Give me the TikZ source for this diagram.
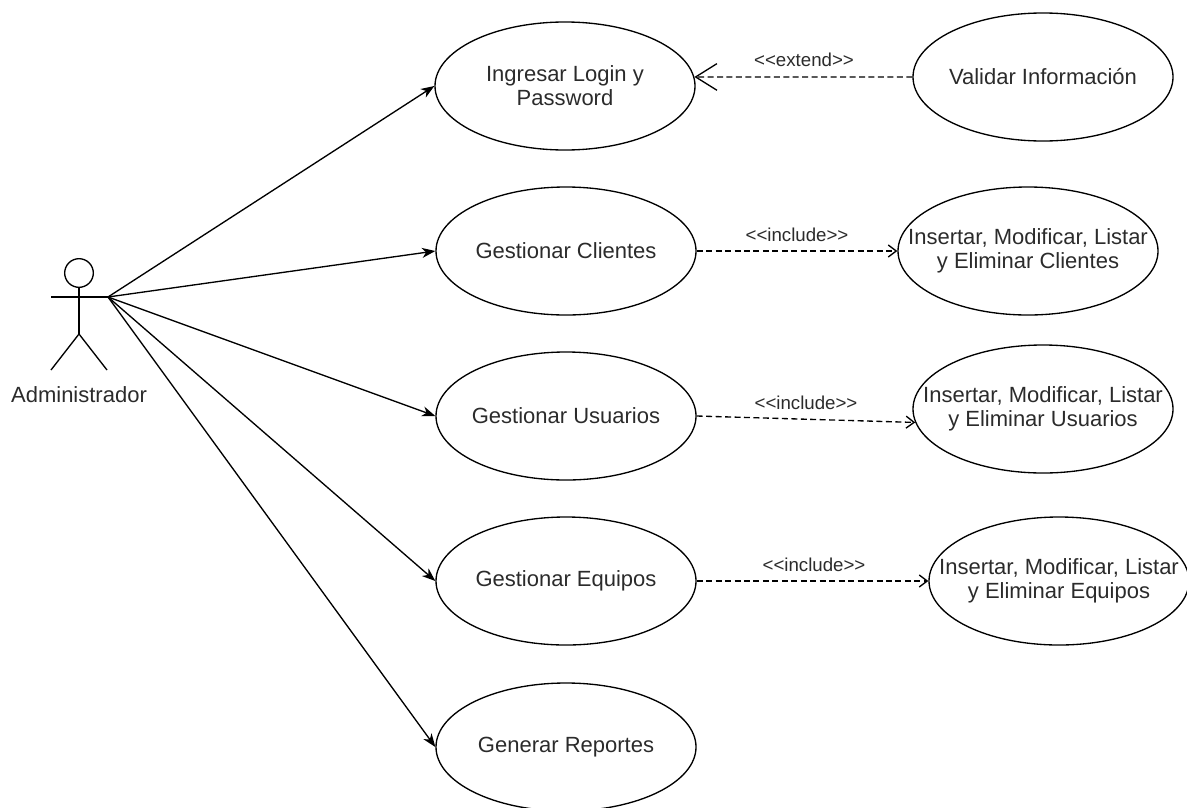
\documentclass[tikz,border=0pt]{standalone}
\usepackage{fontspec}
\setmainfont{Liberation Sans}
\usetikzlibrary{arrows.meta,shapes.geometric}
\definecolor{txt}{HTML}{2B2B2B}
\tikzset{
  uc/.style={draw=black, line width=1pt, ellipse, minimum width=195pt, minimum height=96pt, inner sep=0pt},
  uctext/.style={text=txt, align=center, font=\fontsize{16.5}{18}\selectfont, inner sep=0pt},
  lbl/.style={text=txt, font=\fontsize{14}{16}\selectfont, inner sep=0pt},
  assoc/.style={draw=black, line width=1pt, -{Stealth[length=10pt,width=7.5pt,inset=3pt]}},
  dep/.style={draw=black, line width=1pt, dash pattern=on 4.5pt off 2.6pt},
  incarrow/.style={dep, -{Straight Barb[length=6pt,width=9pt,line width=1pt]}},
  extarrow/.style={dep, -{Straight Barb[length=16pt,width=20pt,line width=1pt]}},
  actorline/.style={draw=black, line width=1pt}
}
\begin{document}
\begin{tikzpicture}[x=0.75pt,y=-0.75pt]
\useasboundingbox (0,0) rectangle (1187,807);
% actor
\node[circle, draw=black, line width=1pt, minimum size=21.5pt, inner sep=0pt] (head) at (79,273) {};
\coordinate (hip) at (79,334);
\coordinate (larm) at (51,297);
\coordinate (hand) at (108,297);
\coordinate (lfoot) at (51,370);
\coordinate (rfoot) at (107,370);
\draw[actorline] (head.south) -- (hip);
\draw[actorline] (larm) -- (hand);
\draw[actorline] (lfoot) -- (hip) -- (rfoot);
\node[uctext] (actorlbl) at (79,395) {Administrador};
% use cases
\node[uc, label={[uctext]center:Ingresar Login y\\Password}] (uc1) at (565,86) {};
\node[uc, label={[uctext]center:Gestionar Clientes}] (uc2) at (566,251) {};
\node[uc, label={[uctext]center:Gestionar Usuarios}] (uc3) at (566,416) {};
\node[uc, label={[uctext]center:Gestionar Equipos}] (uc4) at (566,581) {};
\node[uc, label={[uctext]center:Generar Reportes}] (uc5) at (566,747) {};
\node[uc, label={[uctext]center:Validar Información}] (ex1) at (1043,77) {};
\node[uc, label={[uctext]center:Insertar, Modificar, Listar\\y Eliminar Clientes}] (in2) at (1028,251) {};
\node[uc, label={[uctext]center:Insertar, Modificar, Listar\\y Eliminar Usuarios}] (in3) at (1043,409) {};
\node[uc, label={[uctext]center:Insertar, Modificar, Listar\\y Eliminar Equipos}] (in4) at (1059,581) {};
% associations
\draw[assoc] (hand) -- (uc1.west);
\draw[assoc] (hand) -- (uc2.west);
\draw[assoc] (hand) -- (uc3.west);
\draw[assoc] (hand) -- (uc4.west);
\draw[assoc] (hand) -- (uc5.west);
% extend / include
\draw[extarrow] (ex1.west) -- (uc1.4);
\draw[incarrow] (uc2.east) -- (in2.west);
\draw[incarrow] (uc3.east) -- (in3.186);
\draw[incarrow] (uc4.east) -- (in4.west);
\node[lbl] (l1) at (804,60) {{<}{<}extend{>}{>}};
\node[lbl] (l2) at (797,235) {{<}{<}include{>}{>}};
\node[lbl] (l3) at (806,403) {{<}{<}include{>}{>}};
\node[lbl] (l4) at (814,565) {{<}{<}include{>}{>}};
\end{tikzpicture}
\end{document}
